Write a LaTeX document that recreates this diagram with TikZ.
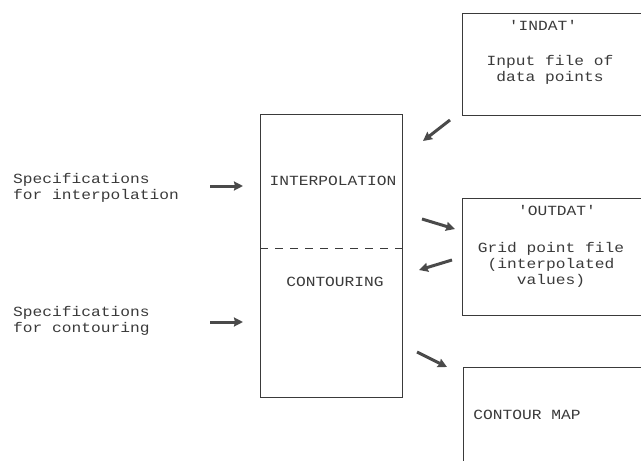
\documentclass[tikz,border=0pt]{standalone}
\usepackage{fontspec}
\setmonofont[FakeStretch=1.16]{Liberation Mono}
\usetikzlibrary{arrows.meta}
\definecolor{ink}{HTML}{3A3A3A}
\definecolor{arrowgray}{HTML}{4A4A4A}
\tikzset{
  box/.style={draw=ink, line width=0.9pt, rectangle, anchor=north west, inner sep=0pt},
  lbl/.style={text=ink, font=\ttfamily\fontsize{14}{16}\selectfont, align=center, inner sep=0pt},
  lefttext/.style={lbl, align=left, anchor=west},
  flow/.style={draw=arrowgray, line width=3pt, -{Stealth[length=9pt,width=9pt,inset=1pt]}}
}
\begin{document}
\begin{tikzpicture}[x=1pt,y=-1pt]
\useasboundingbox (0,0) rectangle (641,461);
\clip (0,0) rectangle (641,461);

% main program block, split into its two stages
\node[box, minimum width=142pt, minimum height=283pt] (prog) at (260,114) {};
\coordinate (split) at (260,248);
\draw[ink, line width=0.9pt, dash pattern=on 8pt off 7pt] (split) -- (split -| prog.east);
\node[lbl] (interp) at (333,181) {INTERPOLATION};
\node[lbl] (contour) at (335,282) {CONTOURING};

% files and output
\node[box, minimum width=200pt, minimum height=102pt] (indat) at (462,13) {};
\node[lbl] (indatname) at (543,25) {'INDAT'};
\node[lbl] (indattext) at (550,70) {Input file of\\data points};

\node[box, minimum width=200pt, minimum height=117pt] (outdat) at (462,198) {};
\node[lbl] (outdatname) at (557,210) {'OUTDAT'};
\node[lbl] (outdattext) at (551,265) {Grid point file\\(interpolated\\values)};

\node[box, minimum width=200pt, minimum height=120pt] (map) at (463,367) {};
\node[lbl] (maptext) at (527,415) {CONTOUR MAP};

% user specifications
\node[lefttext] (specint) at (13,188) {Specifications\\for interpolation};
\node[lefttext] (speccon) at (13,321) {Specifications\\for contouring};

% flow arrows
\coordinate (a1s) at (210,186); \coordinate (a1e) at (243,186);
\coordinate (a2s) at (210,322); \coordinate (a2e) at (243,322);
\coordinate (a3s) at (450,120); \coordinate (a3e) at (423,141);
\coordinate (a4s) at (422,219); \coordinate (a4e) at (455,229);
\coordinate (a5s) at (452,260); \coordinate (a5e) at (419,270);
\coordinate (a6s) at (417,352); \coordinate (a6e) at (447,367);
\draw[flow] (a1s) -- (a1e);
\draw[flow] (a2s) -- (a2e);
\draw[flow] (a3s) -- (a3e);
\draw[flow] (a4s) -- (a4e);
\draw[flow] (a5s) -- (a5e);
\draw[flow] (a6s) -- (a6e);
\end{tikzpicture}
\end{document}
